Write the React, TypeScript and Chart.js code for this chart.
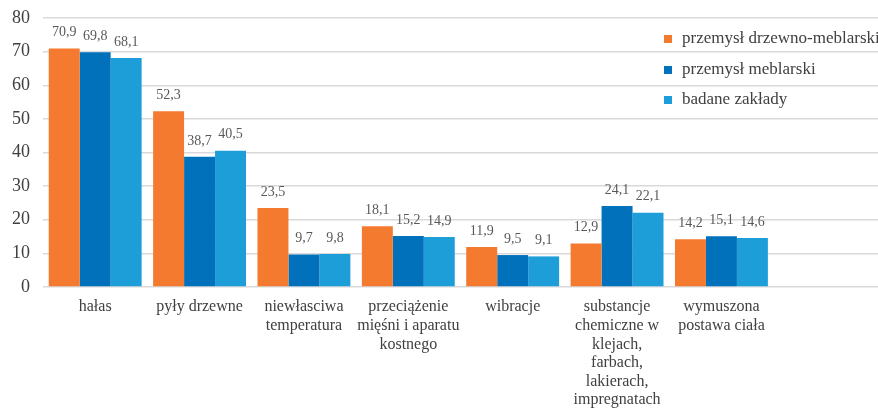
import React, { useEffect, useRef } from "react";
import { Chart, registerables } from "chart.js";

Chart.register(...registerables);

const categories: string[][] = [
  ["hałas"],
  ["pyły drzewne"],
  ["niewłasciwa", "temperatura"],
  ["przeciążenie", "mięśni i aparatu", "kostnego"],
  ["wibracje"],
  ["substancje", "chemiczne w", "klejach,", "farbach,", "lakierach,", "impregnatach"],
  ["wymuszona", "postawa ciała"],
];
const seriesNames = ["przemysł drzewno-meblarski", "przemysł meblarski", "badane zakłady"];
const drzewnoMeblarski = [70.9, 52.3, 23.5, 18.1, 11.9, 12.9, 14.2];
const meblarski = [69.8, 38.7, 9.7, 15.2, 9.5, 24.1, 15.1];
const badaneZaklady = [68.1, 40.5, 9.8, 14.9, 9.1, 22.1, 14.6];
const yTicks = [0, 10, 20, 30, 40, 50, 60, 70, 80];
const colors = ["#F47A2F", "#0171BC", "#1E9ED8"];

const FONT = "'Liberation Serif', 'Times New Roman', serif";

export default function App() {
  const ref = useRef<HTMLCanvasElement | null>(null);
  useEffect(() => {
    if (!ref.current) return;
    const labelsPlugin = {
      id: "valueLabels",
      afterDatasetsDraw(chart: any) {
        const ctx = chart.ctx;
        ctx.save();
        ctx.font = `14px ${FONT}`;
        ctx.fillStyle = "#595959";
        ctx.textAlign = "center";
        ctx.textBaseline = "middle";
        chart.data.datasets.forEach((ds: any, i: number) => {
          const meta = chart.getDatasetMeta(i);
          meta.data.forEach((bar: any, j: number) => {
            const v = ds.data[j];
            if (v == null) return;
            ctx.fillText(String(v).replace(".", ","), bar.x, bar.y - 16);
          });
        });
        ctx.restore();
      },
    };
    const legendPlugin = {
      id: "customLegend",
      afterDraw(chart: any) {
        const ctx = chart.ctx;
        ctx.save();
        ctx.font = `17px ${FONT}`;
        ctx.textBaseline = "middle";
        ctx.textAlign = "left";
        const ys = [39, 70, 100];
        seriesNames.forEach((n, i) => {
          ctx.fillStyle = colors[i];
          ctx.fillRect(664, ys[i] - 4, 8, 8);
          ctx.fillStyle = "#404040";
          ctx.fillText(n, 682, ys[i]);
        });
        ctx.restore();
      },
    };
    const chart = new Chart(ref.current, {
      type: "bar",
      data: {
        labels: [...categories, ""],
        datasets: seriesNames.map((n, i) => ({
          label: n,
          data: [drzewnoMeblarski, meblarski, badaneZaklady][i],
          backgroundColor: colors[i],
          borderWidth: 0,
          categoryPercentage: 0.89,
          barPercentage: 1,
        })),
      },
      options: {
        animation: false,
        responsive: false,
        maintainAspectRatio: false,
        layout: { padding: { top: 18, right: 0, left: 0, bottom: 0 } },
        plugins: { legend: { display: false }, tooltip: { enabled: false } },
        scales: {
          x: {
            afterFit(scale: any) {
              scale.height = 121;
            },
            grid: { display: false, drawTicks: false },
            border: { display: false },
            ticks: {
              color: "#404040",
              font: { family: FONT, size: 16, lineHeight: 1.16 },
              padding: 11,
              maxRotation: 0,
              autoSkip: false,
            },
          },
          y: {
            min: 0,
            max: 80,
            afterFit(scale: any) {
              scale.width = 43;
              scale.paddingTop = 0;
              scale.paddingBottom = 0;
            },
            afterBuildTicks(scale: any) {
              scale.ticks = yTicks.map((v) => ({ value: v }));
            },
            grid: { color: "#D9D9D9", lineWidth: 1.5, drawTicks: false },
            border: { display: false },
            ticks: {
              color: "#404040",
              font: { family: FONT, size: 18 },
              padding: 13,
            },
          },
        },
      },
      plugins: [labelsPlugin, legendPlugin],
    } as any);
    return () => chart.destroy();
  }, []);
  return (
    <div style={{ position: "fixed", left: 0, top: 0, width: 878, height: 408, background: "#fff" }}>
      <canvas ref={ref} width={878} height={408} style={{ width: 878, height: 408 }} />
    </div>
  );
}
